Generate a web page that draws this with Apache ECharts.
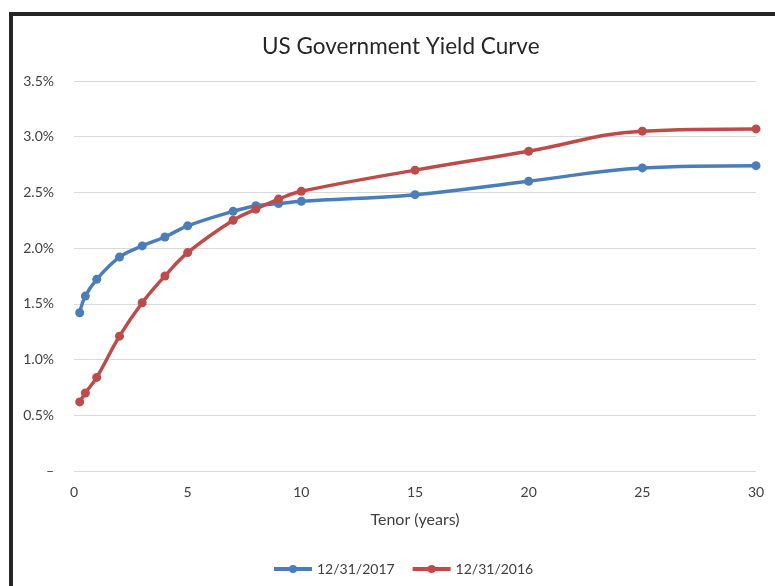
<!DOCTYPE html>
<html>
<head>
<meta charset="utf-8">
<script src="https://cdn.jsdelivr.net/npm/echarts@6/dist/echarts.min.js"></script>
<style>
html,body{margin:0;padding:0;background:#fff;}
#c{width:775px;height:586px;}
</style>
</head>
<body>
<div id="c"></div>
<script>
const tenors = [0.25, 0.5, 1, 2, 3, 4, 5, 7, 8, 9, 10, 15, 20, 25, 30];
const yields2017 = [1.42, 1.57, 1.72, 1.92, 2.02, 2.10, 2.20, 2.33, 2.38, 2.40, 2.42, 2.48, 2.60, 2.72, 2.74];
const yields2016 = [0.62, 0.70, 0.84, 1.21, 1.51, 1.75, 1.96, 2.25, 2.35, 2.44, 2.51, 2.70, 2.87, 3.05, 3.07];
const seriesNames = ['12/31/2017', '12/31/2016'];
const yTicks = [0, 0.5, 1, 1.5, 2, 2.5, 3, 3.5];
const xTicks = [0, 5, 10, 15, 20, 25, 30];

const FONT = 'Lato';
const chart = echarts.init(document.getElementById('c'));
const pair = (ys) => tenors.map((t, i) => [t, ys[i]]);
const colors = ['#4A7EBB', '#BE4B48'];

chart.setOption({
  animation: false,
  textStyle: { fontFamily: FONT },
  graphic: [{
    type: 'rect',
    shape: { x: 11, y: 14, width: 820, height: 700 },
    style: { fill: 'none', stroke: '#262626', lineWidth: 4 },
    silent: true
  }],
  title: {
    text: 'US Government Yield Curve',
    left: 257,
    top: 30,
    textStyle: { fontFamily: FONT, fontSize: 22.5, fontWeight: 'normal', color: '#262626' }
  },
  grid: { left: 74, right: 19, top: 81, bottom: 115 },
  legend: {
    left: 267,
    top: 557,
    itemWidth: 38,
    itemHeight: 10,
    itemGap: 16,
    lineStyle: { width: 4 },
    textStyle: { fontFamily: FONT, fontSize: 14, color: '#404040' },
    data: seriesNames
  },
  xAxis: {
    type: 'value',
    min: xTicks[0],
    max: xTicks[xTicks.length - 1],
    interval: 5,
    name: 'Tenor (years)',
    nameLocation: 'middle',
    nameGap: 41,
    nameTextStyle: { fontFamily: FONT, fontSize: 16, color: '#404040' },
    axisLine: { show: false },
    axisTick: { show: false },
    splitLine: { show: false },
    axisLabel: { fontFamily: FONT, fontSize: 14, color: '#404040', margin: 14 }
  },
  yAxis: {
    type: 'value',
    min: yTicks[0],
    max: yTicks[yTicks.length - 1],
    interval: 0.5,
    axisLine: { show: false },
    axisTick: { show: false },
    splitLine: { lineStyle: { color: '#D9D9D9', width: 1 } },
    axisLabel: {
      fontFamily: FONT, fontSize: 14, color: '#404040', margin: 20,
      formatter: (v) => v === 0 ? '–' : v.toFixed(1) + '%'
    }
  },
  series: [
    {
      name: seriesNames[0], type: 'line', data: pair(yields2017),
      smooth: 0.4, symbol: 'circle', symbolSize: 9,
      itemStyle: { color: colors[0] },
      lineStyle: { color: colors[0], width: 3.5 }
    },
    {
      name: seriesNames[1], type: 'line', data: pair(yields2016),
      smooth: 0.4, symbol: 'circle', symbolSize: 9,
      itemStyle: { color: colors[1] },
      lineStyle: { color: colors[1], width: 3.5 }
    }
  ]
});
</script>
</body>
</html>
